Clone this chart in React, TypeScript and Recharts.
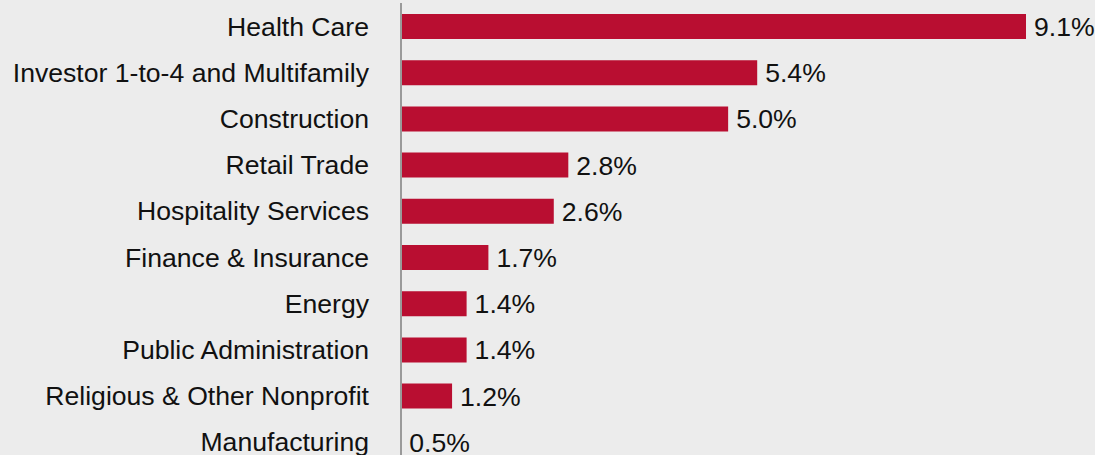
import { BarChart, Bar, XAxis, YAxis, LabelList } from 'recharts';

const categories = [
  'Health Care',
  'Investor 1-to-4 and Multifamily',
  'Construction',
  'Retail Trade',
  'Hospitality Services',
  'Finance & Insurance',
  'Energy',
  'Public Administration',
  'Religious & Other Nonprofit',
  'Manufacturing',
];

const shares = [9.1, 5.4, 5.0, 2.8, 2.6, 1.7, 1.4, 1.4, 1.2, 0.5];

const data = categories.map((name, i) => ({ name, value: shares[i] }));

const FONT = '"Liberation Sans", Arial, sans-serif';

export default function App() {
  return (
    <div
      style={{
        position: 'absolute',
        left: 0,
        top: 0,
        width: 1095,
        height: 455,
        overflow: 'hidden',
        background: '#ececec',
      }}
    >
      <BarChart
        width={1095}
        height={470}
        data={data}
        layout="vertical"
        margin={{ top: 3, right: 69, left: 0, bottom: 5 }}
      >
        {/* axis starts just under 0.5, so the smallest bar is hidden by the axis line */}
        <XAxis type="number" domain={[0.497, 9.1]} allowDataOverflow hide />
        <Bar dataKey="value" fill="#b90e31" barSize={25} isAnimationActive={false}>
          <LabelList
            dataKey="value"
            position="right"
            offset={8}
            formatter={(v: number) => `${v.toFixed(1)}%`}
            style={{ fontSize: 26.6, fill: '#111', fontFamily: FONT }}
          />
        </Bar>
        <YAxis
          type="category"
          dataKey="name"
          width={401}
          axisLine={{ stroke: '#9a9a9a', strokeWidth: 2 }}
          tickLine={false}
          tickSize={0}
          tickMargin={32}
          tick={{ fontSize: 26.6, fill: '#111', fontFamily: FONT }}
          interval={0}
        />
      </BarChart>
    </div>
  );
}
